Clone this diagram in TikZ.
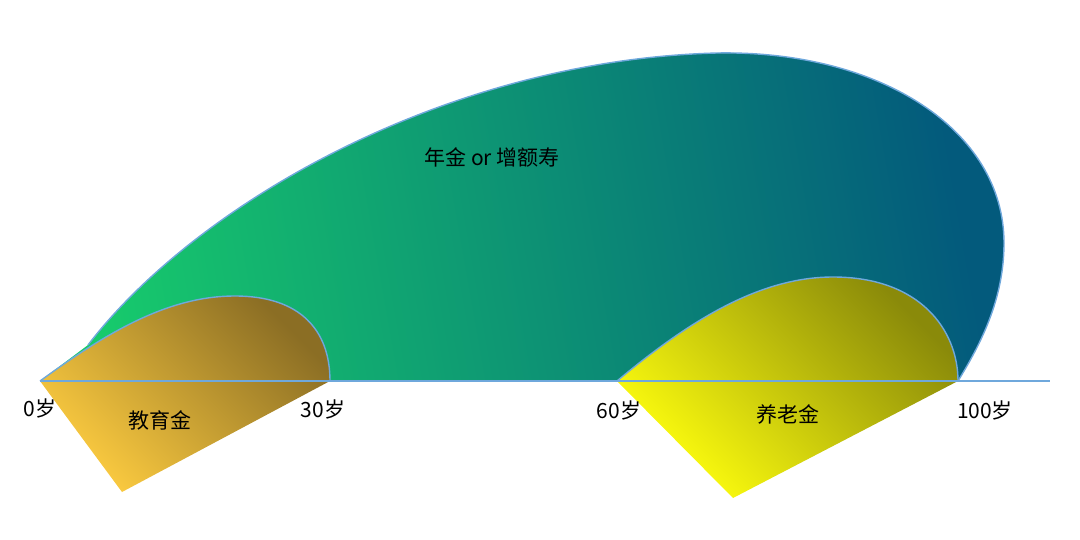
\documentclass[tikz,border=0pt]{standalone}
\usepackage{fontspec}
\setmainfont{Noto Sans CJK SC}
\usetikzlibrary{positioning}
\definecolor{axisblue}{HTML}{6FA8DC}
\definecolor{eduLight}{HTML}{FCCB40}
\definecolor{eduDark}{HTML}{8B6E24}
\definecolor{penLight}{HTML}{FFFF0E}
\definecolor{penDark}{HTML}{8A8A0A}
\definecolor{lifeLight}{HTML}{17CA6C}
\definecolor{lifeDark}{HTML}{035A7C}

\begin{document}
\begin{tikzpicture}[
    x=1pt, y=-1pt,
    outline/.style={draw=axisblue, line width=1.4pt},
    age/.style={font=\fontsize{21}{24}\selectfont, text=black, inner sep=0pt},
    ]
    \useasboundingbox (0,0) rectangle (1080,539);

    % ages on the axis
    \coordinate (a0) at (40,381);
    \coordinate (a30) at (330,381);
    \coordinate (a60) at (617,381);
    \coordinate (a100) at (958,381);
    \coordinate (axisend) at (1050,381);

    % annuity
    \path[left color=lifeLight, right color=lifeDark, shading angle=100]
        (88,345) .. controls (195,205) and (445,60) .. (717,53)
        .. controls (880,50) and (1004,130) .. (1004,243)
        .. controls (1004,300) and (980,345) .. (a100) -- (a0) -- cycle;
    \draw[outline]
        (88,345) .. controls (195,205) and (445,60) .. (717,53)
        .. controls (880,50) and (1004,130) .. (1004,243)
        .. controls (1004,300) and (980,345) .. (a100);

    % education
    \path[bottom color=eduLight, top color=eduDark, shading angle=-45]
        (a0) .. controls (110,330) and (170,296) .. (235,296)
        .. controls (300,296) and (330,330) .. (a30)
        -- (122,492) -- cycle;
    \draw[outline] (a0) .. controls (110,330) and (170,296) .. (235,296)
        .. controls (300,296) and (330,330) .. (a30);

    % pension
    \path[bottom color=penLight, top color=penDark, shading angle=-45]
        (a60) .. controls (690,320) and (760,277) .. (833,277)
        .. controls (920,277) and (958,330) .. (a100)
        -- (733,498) -- cycle;
    \draw[outline] (a60) .. controls (690,320) and (760,277) .. (833,277)
        .. controls (920,277) and (958,330) .. (a100);

    \draw[outline] (a0) -- (axisend);

    \node[age] (l0) at (40,408) {0岁};
    \node[age] (l30) at (323,409) {30岁};
    \node[age] (l60) at (619,410) {60岁};
    \node[age] (l100) at (985,410) {100岁};
    \node[age] (edu) at (160,420) {教育金};
    \node[age] (pen) at (788,414) {养老金};
    \node[age] (life) at (492,157) {年金 or 增额寿};
\end{tikzpicture}
\end{document}
